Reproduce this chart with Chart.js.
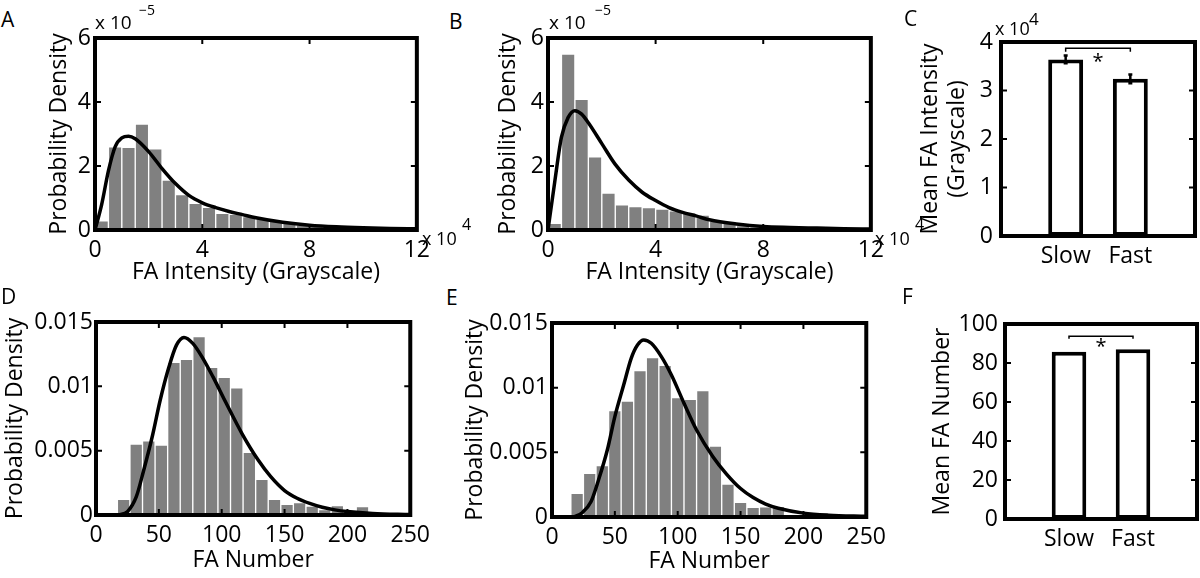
<!DOCTYPE html>
<html>
<head>
<meta charset="utf-8">
<script src="https://cdn.jsdelivr.net/npm/chart.js@4.4.0/dist/chart.umd.min.js"></script>
<style>
  body { margin: 0; background: #fff; width: 1200px; height: 578px; position: relative; overflow: hidden; font-family: 'Open Sans', sans-serif; }
  canvas { position: absolute; }
  .note { position: absolute; line-height: 1; white-space: pre; color: #000; }
</style>
</head>
<body>
<script>
'use strict';

// A / B : FA intensity histograms (x in 10^4 grayscale, density in 10^-5)
let intensityBins = [0.25, 0.75, 1.25, 1.75, 2.25, 2.75, 3.25, 3.75, 4.25, 4.75, 5.25, 5.75,
  6.25, 6.75, 7.25, 7.75, 8.25, 8.75, 9.25, 9.75, 10.25, 10.75, 11.25, 11.75];
let slowIntensityHist = [0.29, 2.6, 2.58, 3.31, 2.54, 1.56, 1.11, 0.83, 0.71, 0.52, 0.49, 0.42,
  0.36, 0.28, 0.21, 0.16, 0.12, 0.09, 0.07, 0.05, 0.04, 0.03, 0.03, 0.02];
let fastIntensityHist = [0.21, 5.5, 4.08, 2.29, 1.15, 0.79, 0.73, 0.7, 0.65, 0.6, 0.54, 0.47,
  0.29, 0.21, 0.14, 0.1, 0.08, 0.06, 0.05, 0.04, 0.03, 0.03, 0.02, 0.02];
let intensityFitX = [0, 0.25, 0.5, 0.75, 1, 1.25, 1.5, 2, 2.5, 3, 3.5, 4, 4.5, 5, 5.5, 6, 7, 8, 9, 10, 11, 12];
let slowIntensityFit = [0, 0.8, 1.85, 2.6, 2.88, 2.93, 2.85, 2.45, 1.92, 1.45, 1.08, 0.85, 0.7, 0.58, 0.48, 0.38, 0.24, 0.15, 0.1, 0.07, 0.05, 0.04];
let fastIntensityFit = [0, 1.5, 2.9, 3.52, 3.73, 3.62, 3.35, 2.7, 2.05, 1.56, 1.18, 0.92, 0.7, 0.55, 0.44, 0.32, 0.19, 0.11, 0.08, 0.06, 0.04, 0.03];
let intensityTicks = [0, 4, 8, 12];
let intensityDensityTicks = [0, 2, 4, 6];

// D / E : FA number histograms
let slowNumberBins = [22, 32, 42, 52, 62, 72, 82, 92, 102, 112, 122, 132, 142, 152, 162, 172, 182, 192, 202, 212];
let slowNumberHist = [0.00122, 0.00552, 0.00577, 0.00544, 0.01186, 0.0121, 0.01386, 0.01148, 0.0107, 0.00989,
  0.00487, 0.00277, 0.00122, 0.00083, 0.00096, 0.0007, 0.00042, 0.00073, 0.00031, 0.00065];
let fastNumberBins = [20, 30, 40, 50, 60, 70, 80, 90, 100, 110, 120, 130, 140, 150, 160, 170, 180];
let fastNumberHist = [0.00183, 0.00338, 0.00397, 0.00822, 0.00897, 0.01132, 0.01232, 0.01173, 0.00923, 0.0091,
  0.00977, 0.00549, 0.00255, 0.00114, 0.00075, 0.00078, 0.00083];
let slowNumberFitX = [18, 25, 32, 38, 45, 51, 58, 64, 70, 77, 85, 93, 103, 116, 129, 139, 150, 160, 170, 180, 190, 200, 220, 250];
let slowNumberFit = [0, 0.00026, 0.0014, 0.0035, 0.0062, 0.0089, 0.0115, 0.0132, 0.0138, 0.01334, 0.01218, 0.01075,
  0.0088, 0.00635, 0.00427, 0.00298, 0.0019, 0.0013, 0.0009, 0.0006, 0.0004, 0.00027, 0.00012, 0.00003];
let fastNumberFitX = [17, 24, 31, 37, 44, 50, 57, 63, 68, 73, 79, 87, 95, 105, 115, 128, 139, 150, 160, 170, 180, 200, 220, 250];
let fastNumberFit = [0, 0.00033, 0.00118, 0.00286, 0.00518, 0.00776, 0.0102, 0.01227, 0.0133, 0.01369, 0.01343, 0.0124,
  0.01098, 0.0088, 0.00673, 0.00466, 0.0033, 0.0022, 0.0015, 0.001, 0.00068, 0.0003, 0.00014, 0.00005];
let numberTicks = [0, 50, 100, 150, 200, 250];
let numberDensityTicks = [0, 0.005, 0.01, 0.015];

// C / F : means
let speedGroups = ['Slow', 'Fast'];
let meanIntensity = [3.64, 3.24];      // x 10^4
let meanIntensityErr = [0.08, 0.09];
let meanIntensityTicks = [0, 1, 2, 3, 4];
let meanNumber = [85.8, 87.1];
let meanNumberTicks = [0, 20, 40, 60, 80, 100];

Chart.defaults.font.family = "'Open Sans', sans-serif";
Chart.defaults.font.size = 23;
Chart.defaults.color = '#000';
Chart.defaults.animation = false;
Chart.defaults.plugins.legend.display = false;
Chart.defaults.plugins.tooltip.enabled = false;

// thick box round the axes, with small inward ticks
const framePlugin = {
  id: 'frame',
  afterDatasetsDraw(chart, args, opts) {
    let { ctx, chartArea: a, scales: { x, y } } = chart;
    ctx.save();
    ctx.strokeStyle = '#000';
    ctx.lineWidth = 2;
    ctx.beginPath();
    if (opts.xTicks) {
      x.ticks.forEach(t => {
        let px = x.getPixelForValue(t.value);
        ctx.moveTo(px, a.top); ctx.lineTo(px, a.top + 6);
        ctx.moveTo(px, a.bottom); ctx.lineTo(px, a.bottom - 6);
      });
    }
    if (opts.yTicks) {
      y.ticks.forEach(t => {
        let py = y.getPixelForValue(t.value);
        ctx.moveTo(a.left, py); ctx.lineTo(a.left + 6, py);
        ctx.moveTo(a.right, py); ctx.lineTo(a.right - 6, py);
      });
    }
    ctx.stroke();
    ctx.lineWidth = 4;
    ctx.strokeRect(a.left, a.top, a.right - a.left, a.bottom - a.top);
    ctx.restore();
  }
};

// error bars + significance bracket for the mean panels
const sigPlugin = {
  id: 'sig',
  afterDatasetsDraw(chart, args, o) {
    if (!o.bracketY) return;
    let { ctx, scales: { x, y } } = chart;
    ctx.save();
    ctx.strokeStyle = '#000';
    if (o.values && o.err) {
      ctx.lineWidth = 2.5;
      ctx.beginPath();
      o.values.forEach((v, i) => {
        let px = x.getPixelForValue(i + 1);
        let lo = y.getPixelForValue(v - o.err[i]), hi = y.getPixelForValue(v + o.err[i]);
        ctx.moveTo(px, lo); ctx.lineTo(px, hi);
        ctx.moveTo(px - 2, lo); ctx.lineTo(px + 2, lo);
        ctx.moveTo(px - 2, hi); ctx.lineTo(px + 2, hi);
      });
      ctx.stroke();
    }
    let x1 = x.getPixelForValue(o.from), x2 = x.getPixelForValue(o.to);
    let yb = y.getPixelForValue(o.bracketY), yd = y.getPixelForValue(o.bracketY - o.drop);
    ctx.lineWidth = 1.5;
    ctx.beginPath();
    ctx.moveTo(x1, yd); ctx.lineTo(x1, yb); ctx.lineTo(x2, yb); ctx.lineTo(x2, yd);
    ctx.stroke();
    ctx.fillStyle = '#000';
    ctx.font = "20px 'Open Sans'";
    ctx.textAlign = 'center';
    ctx.textBaseline = 'middle';
    ctx.fillText('*', (x1 + x2) / 2, y.getPixelForValue(o.starY));
    ctx.restore();
  }
};

function addCanvas(box) {
  let c = document.createElement('canvas');
  c.width = box.r - box.l;
  c.height = box.b - box.t;
  c.style.left = box.l + 'px';
  c.style.top = box.t + 'px';
  document.body.appendChild(c);
  return c;
}

function panel(p) {
  let c = addCanvas(p.box);
  return new Chart(c, {
    type: 'bar',
    data: { datasets: p.datasets },
    options: {
      responsive: false,
      layout: { padding: { top: p.plot.t - p.box.t, right: p.box.r - p.plot.r, left: 0, bottom: 0 } },
      scales: {
        x: {
          type: 'linear', offset: false, min: p.xMin, max: p.xMax,
          grid: { display: false, drawTicks: false, offset: false },
          border: { display: false },
          ticks: { padding: 7, maxRotation: 0, autoSkip: false, callback: p.xLabel || (v => String(v)) },
          afterBuildTicks: s => { s.ticks = p.xTicks.map(v => ({ value: v })); },
          afterFit: s => { s.height = p.box.b - p.plot.b; },
          title: p.xTitle
            ? { display: true, text: p.xTitle, padding: { top: 0, bottom: p.xTitlePad } }
            : { display: false }
        },
        y: {
          type: 'linear', min: p.yTicks[0], max: p.yTicks[p.yTicks.length - 1],
          grid: { display: false, drawTicks: false },
          border: { display: false },
          ticks: { padding: p.yTickPad, callback: v => String(v) },
          afterBuildTicks: s => { s.ticks = p.yTicks.map(v => ({ value: v })); },
          afterFit: s => { s.width = p.plot.l - p.box.l; },
          title: { display: true, text: p.yTitle, padding: { top: p.yTitlePad, bottom: 0 } }
        }
      },
      plugins: {
        frame: { xTicks: p.frameXTicks, yTicks: true },
        sig: p.sig || {}
      }
    },
    plugins: [framePlugin, sigPlugin]
  });
}

function histSet(bins, vals) {
  return {
    type: 'bar', order: 1,
    data: bins.map((x, i) => ({ x: x, y: vals[i] })),
    backgroundColor: '#808080', borderColor: '#ffffff', borderWidth: 1,
    barPercentage: 1, categoryPercentage: 1
  };
}

function fitSet(xs, vals) {
  return {
    type: 'line', order: 0,
    data: xs.map((x, i) => ({ x: x, y: vals[i] })),
    borderColor: '#000', borderWidth: 3.5, pointRadius: 0, fill: false,
    cubicInterpolationMode: 'monotone'
  };
}

function meanSet(vals) {
  return {
    type: 'bar',
    data: vals.map((v, i) => ({ x: i + 1, y: v })),
    backgroundColor: '#ffffff', borderColor: '#000', borderWidth: 4, borderSkipped: false,
    barPercentage: 0.54, categoryPercentage: 1
  };
}

// A
panel({
  box: { l: 42, t: 0, r: 437, b: 290 }, plot: { l: 95, t: 38, r: 417, b: 230 },
  datasets: [histSet(intensityBins, slowIntensityHist), fitSet(intensityFitX, slowIntensityFit)],
  xTicks: intensityTicks, xMin: 0, xMax: 12, yTicks: intensityDensityTicks,
  xTitle: 'FA Intensity (Grayscale)', xTitlePad: 4.2,
  yTitle: 'Probability Density', yTitlePad: 3.2, yTickPad: 4, frameXTicks: true
});

// B
panel({
  box: { l: 491, t: 0, r: 891, b: 290 }, plot: { l: 548, t: 38, r: 871, b: 230 },
  datasets: [histSet(intensityBins, fastIntensityHist), fitSet(intensityFitX, fastIntensityFit)],
  xTicks: intensityTicks, xMin: 0, xMax: 12, yTicks: intensityDensityTicks,
  xTitle: 'FA Intensity (Grayscale)', xTitlePad: 4.2,
  yTitle: 'Probability Density', yTitlePad: 3.2, yTickPad: 4, frameXTicks: true
});

// C
panel({
  box: { l: 912, t: 0, r: 1200, b: 290 }, plot: { l: 1001, t: 42, r: 1195, b: 236 },
  datasets: [meanSet(meanIntensity)],
  xTicks: [1, 2], xMin: 0, xMax: 3, xLabel: (v, i) => speedGroups[i], yTicks: meanIntensityTicks,
  yTitle: ['Mean FA Intensity', '(Grayscale)'], yTitlePad: 4.2, yTickPad: 8, frameXTicks: false,
  sig: { values: meanIntensity, err: meanIntensityErr, from: 1, to: 2, bracketY: 3.87, drop: 0.07, starY: 3.59 }
});

// D
panel({
  box: { l: 0, t: 290, r: 437, b: 578 }, plot: { l: 96, t: 322, r: 417, b: 515 },
  datasets: [histSet(slowNumberBins, slowNumberHist), fitSet(slowNumberFitX, slowNumberFit)],
  xTicks: numberTicks, xMin: 0, xMax: 250, yTicks: numberDensityTicks,
  xTitle: 'FA Number', xTitlePad: 4.2,
  yTitle: 'Probability Density', yTitlePad: 1.2, yTickPad: 3, frameXTicks: true
});

// E
panel({
  box: { l: 458, t: 290, r: 893, b: 578 }, plot: { l: 552, t: 323, r: 873, b: 517 },
  datasets: [histSet(fastNumberBins, fastNumberHist), fitSet(fastNumberFitX, fastNumberFit)],
  xTicks: numberTicks, xMin: 0, xMax: 250, yTicks: numberDensityTicks,
  xTitle: 'FA Number', xTitlePad: 3.2,
  yTitle: 'Probability Density', yTitlePad: 3.2, yTickPad: 4, frameXTicks: true
});

// F
panel({
  box: { l: 925, t: 290, r: 1200, b: 578 }, plot: { l: 1005, t: 324, r: 1197, b: 519 },
  datasets: [meanSet(meanNumber)],
  xTicks: [1, 2], xMin: 0, xMax: 3, xLabel: (v, i) => speedGroups[i], yTicks: meanNumberTicks,
  yTitle: 'Mean FA Number', yTitlePad: 3.2, yTickPad: 7, frameXTicks: false,
  sig: { from: 1, to: 2, bracketY: 93.7, drop: 1.2, starY: 87.8 }
});

// panel letters and axis multipliers: [text, left, baseline, size]
let notes = [
  ['A', 1, 28, 21], ['B', 449, 30, 21], ['C', 904, 27, 21],
  ['D', 1, 305, 21], ['E', 446, 306, 21], ['F', 902, 305, 21],
  ['x 10', 95, 30, 19], ['\u22125', 139, 15, 14],
  ['x 10', 549, 30, 19], ['\u22125', 595, 15, 14],
  ['x 10', 422, 245, 18], ['4', 462, 230, 16],
  ['x 10', 875, 245, 18], ['4', 915, 230, 16],
  ['x 10', 995, 35, 18], ['4', 1029, 25, 17]
];
notes.forEach(([text, left, base, size]) => {
  let d = document.createElement('div');
  d.className = 'note';
  d.textContent = text;
  d.style.left = left + 'px';
  d.style.top = (base - 0.888 * size) + 'px';
  d.style.fontSize = size + 'px';
  document.body.appendChild(d);
});
</script>
</body>
</html>
